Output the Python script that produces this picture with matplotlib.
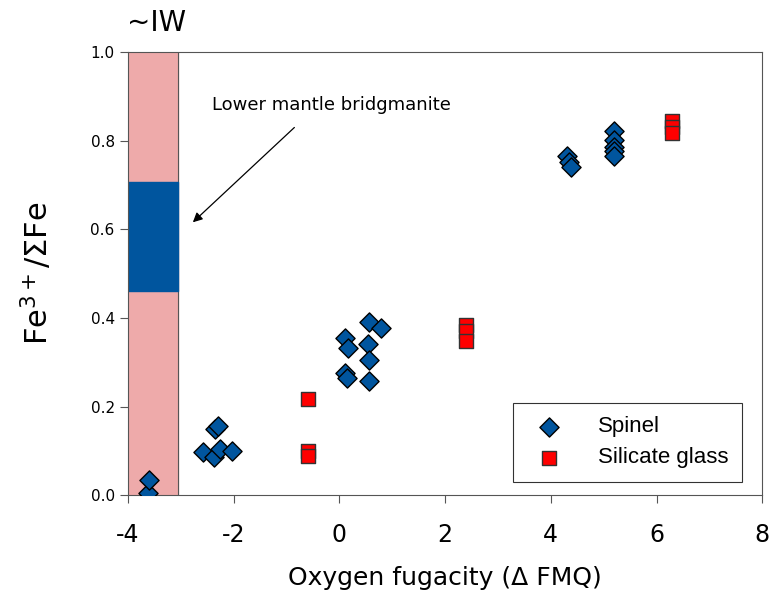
import numpy as np
import matplotlib.pyplot as plt

# spinel data (delta FMQ, Fe3+/sum Fe)
spinel_x = [-3.62, -3.6, -2.35, -2.3, -2.58, -2.37, -2.25, -2.03,
            0.1, 0.16, 0.57, 0.78, 0.55, 0.57, 0.1, 0.14, 0.57,
            4.3, 4.35, 4.38, 5.2, 5.19, 5.19, 5.2, 5.2]
spinel_y = [0.005, 0.035, 0.15, 0.155, 0.097, 0.086, 0.105, 0.10,
            0.355, 0.333, 0.392, 0.377, 0.342, 0.305, 0.275, 0.265, 0.258,
            0.765, 0.752, 0.74, 0.822, 0.802, 0.787, 0.776, 0.765]

# silicate glass data
glass_x = [-0.6, -0.6, -0.6, 2.4, 2.4, 2.4, 6.3, 6.3, 6.3]
glass_y = [0.218, 0.099, 0.088, 0.385, 0.37, 0.348, 0.845, 0.832, 0.818]

fig = plt.figure(figsize=(7.70, 5.93), dpi=100)
ax = fig.add_axes([0.166, 0.165, 0.824, 0.747])

# ~IW band and bridgmanite range
ax.axvspan(-4, -3.05, color='#eeaaaa', zorder=0)
ax.axvline(-3.05, color='#555555', lw=0.8, zorder=1)
ax.fill_between([-4, -3.05], 0.46, 0.707, color='#00559e', zorder=1)

ax.scatter(spinel_x, spinel_y, marker='D', s=95, c='#00559e',
           edgecolors='black', linewidths=1, zorder=3, label='Spinel')
ax.scatter(glass_x, glass_y, marker='s', s=110, c='#ff0000',
           edgecolors='#333333', linewidths=1, zorder=3, label='Silicate glass')

ax.text(-2.4, 0.88, 'Lower mantle bridgmanite', fontsize=13, ha='left', va='center')
ax.annotate('', xy=(-2.77, 0.616), xytext=(-0.85, 0.83),
            arrowprops=dict(arrowstyle='-|>', color='black', lw=0.9,
                            shrinkA=0, shrinkB=0, mutation_scale=14))
ax.text(-3.45, 1.035, '~IW', fontsize=20, ha='center', va='bottom')

ax.set_xlim(-4, 8)
ax.set_ylim(0, 1.0)
ax.set_xticks(np.arange(-4, 9, 2))
ax.set_yticks(np.arange(0, 1.01, 0.2))
ax.set_xticklabels([str(v) for v in range(-4, 9, 2)], fontsize=17)
ax.set_yticklabels(['%.1f' % v for v in np.arange(0, 1.01, 0.2)], fontsize=11)
ax.tick_params(direction='out', length=6, color='#555555')
ax.tick_params(axis='x', pad=14)
for sp in ax.spines.values():
    sp.set_color('#555555')

ax.set_xlabel('Oxygen fugacity (Δ FMQ)', fontsize=18, labelpad=14)
ax.set_ylabel('Fe$^{3+}$/ΣFe', fontsize=22, labelpad=26)

leg = ax.legend(loc='lower right', frameon=True, fancybox=False,
                prop={'family': 'Liberation Sans', 'size': 16},
                edgecolor='black', borderpad=0.6, labelspacing=0.45,
                handletextpad=1.2, bbox_to_anchor=(0.985, 0.005))
leg.get_frame().set_linewidth(0.8)

fig.savefig('out.png', dpi=100)
